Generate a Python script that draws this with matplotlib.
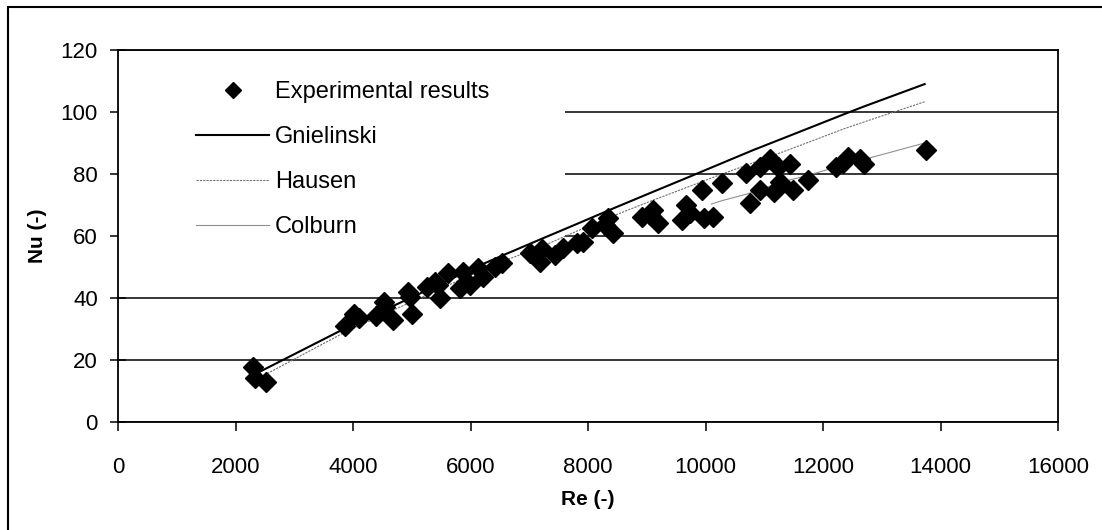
import numpy as np
import matplotlib.pyplot as plt
from matplotlib.patches import Rectangle
from matplotlib.lines import Line2D

plt.rcParams['font.family'] = ['Liberation Sans', 'DejaVu Sans']

re_exp = [2303, 2332, 2519, 3864, 4017, 4108, 4386, 4528, 4545, 4686,
          4942, 4970, 4999, 5254, 5396, 5452, 5481, 5622, 5821, 5878,
          5991, 6133, 6218, 6417, 6531, 7013, 7183, 7212, 7438, 7580,
          7807, 7920, 8063, 8289, 8346, 8431, 8914, 9055, 9112, 9197,
          9595, 9668, 9736, 9935, 9974, 10122, 10275, 10684, 10757, 10928,
          10928, 11098, 11166, 11240, 11268, 11438, 11495, 11750, 12221, 12345,
          12420, 12630, 12698, 13753]
nu_exp = [17.8, 14.1, 12.8, 31.0, 34.8, 33.4, 34.3, 38.8, 37.2, 32.9,
          42.0, 40.4, 35.0, 43.6, 45.3, 44.2, 39.9, 48.0, 43.1, 48.5,
          44.2, 49.6, 46.9, 50.1, 51.2, 54.4, 51.7, 55.7, 53.9, 56.0,
          57.6, 58.2, 62.5, 63.5, 65.7, 60.9, 66.0, 66.8, 68.4, 64.1,
          65.2, 70.0, 67.3, 74.8, 65.7, 66.2, 77.0, 80.2, 70.5, 82.2,
          74.8, 84.7, 74.3, 82.2, 77.5, 83.2, 74.8, 78.1, 82.2, 83.7,
          85.6, 85.0, 83.2, 87.7]

# Correlaciones
re_gni = [2390, 3864, 4540, 5000, 5450, 6130, 6530, 7200, 7800, 8430,
          9100, 9700, 10280, 10810, 11440, 12400, 12700, 13730]
nu_gni = [16.0, 30.2, 36.2, 40.2, 44.2, 50.3, 53.6, 59.0, 63.8, 68.9,
          74.2, 78.9, 83.5, 87.7, 92.4, 99.6, 101.8, 109.0]

re_hau = [2390, 3864, 5000, 6130, 6500, 7200, 7800, 8430, 9100, 9700,
          10280, 10810, 11440, 12345, 12700, 13730]
nu_hau = [14.1, 29.0, 38.8, 48.5, 51.5, 56.5, 61.5, 66.5, 71.5, 75.8,
          80.0, 83.6, 88.0, 94.5, 96.8, 103.3]

re_col = [10100, 10280, 10700, 10950, 11250, 11440, 11750, 12220, 12450, 12700, 13750]
nu_col = [70.3, 71.4, 73.5, 75.2, 77.0, 78.1, 79.6, 82.2, 83.4, 84.7, 90.1]

fig = plt.figure(figsize=(11.02, 5.30), dpi=100)
ax = fig.add_axes([118/1102, 1 - 422/530, 940/1102, 372/530])

# Marco exterior del grafico
fig.patches.append(Rectangle((8/1102, -0.1), 1.2, 1 - 7/530 + 0.1,
                             transform=fig.transFigure, fill=False,
                             edgecolor='black', linewidth=1.5))

ax.set_axisbelow(True)
ax.yaxis.grid(True, color='black', linewidth=1.1)
# Fondo blanco de la leyenda tapa las lineas de la rejilla
ax.add_patch(Rectangle((0, 0.45), 0.4755, 0.53, transform=ax.transAxes,
                       facecolor='white', edgecolor='none', zorder=1))

ax.plot(re_gni, nu_gni, color='black', linewidth=1.5, zorder=3)
ax.plot(re_hau, nu_hau, color='#707070', linewidth=0.8, linestyle=(0, (2, 1)), zorder=3)
ax.plot(re_col, nu_col, color='#909090', linewidth=0.8, zorder=3)
ax.plot(re_exp, nu_exp, linestyle='none', marker='D', color='black',
        markersize=10, zorder=4)

ax.set_xlim(0, 16000)
ax.set_ylim(0, 120)
ax.set_xticks(np.arange(0, 16001, 2000))
ax.set_yticks(np.arange(0, 121, 20))
ax.tick_params(axis='x', direction='out', length=6.5, width=1.1,
               labelsize=16, pad=19)
ax.tick_params(axis='y', direction='inout', length=11, width=1.1,
               labelsize=16, pad=9)
for s in ax.spines.values():
    s.set_linewidth(1.3)

ax.set_xlabel('Re (-)', fontsize=15, fontweight='bold', labelpad=8)
ax.set_ylabel('Nu (-)', fontsize=15, fontweight='bold', labelpad=10)

handles = [
    Line2D([], [], linestyle='none', marker='D', color='black', markersize=8),
    Line2D([], [], color='black', linewidth=1.5),
    Line2D([], [], color='#707070', linewidth=0.8, linestyle=(0, (2, 1))),
    Line2D([], [], color='#909090', linewidth=0.8),
]
leg = ax.legend(handles, ['Experimental results', 'Gnielinski', 'Hausen', 'Colburn'],
                loc='upper left', bbox_to_anchor=(0.083, 0.917), frameon=False,
                fontsize=17, handlelength=3.1, handletextpad=0.25,
                labelspacing=0.98, borderpad=0, borderaxespad=0)
leg.set_zorder(5)

fig.savefig('out.png', dpi=100)
